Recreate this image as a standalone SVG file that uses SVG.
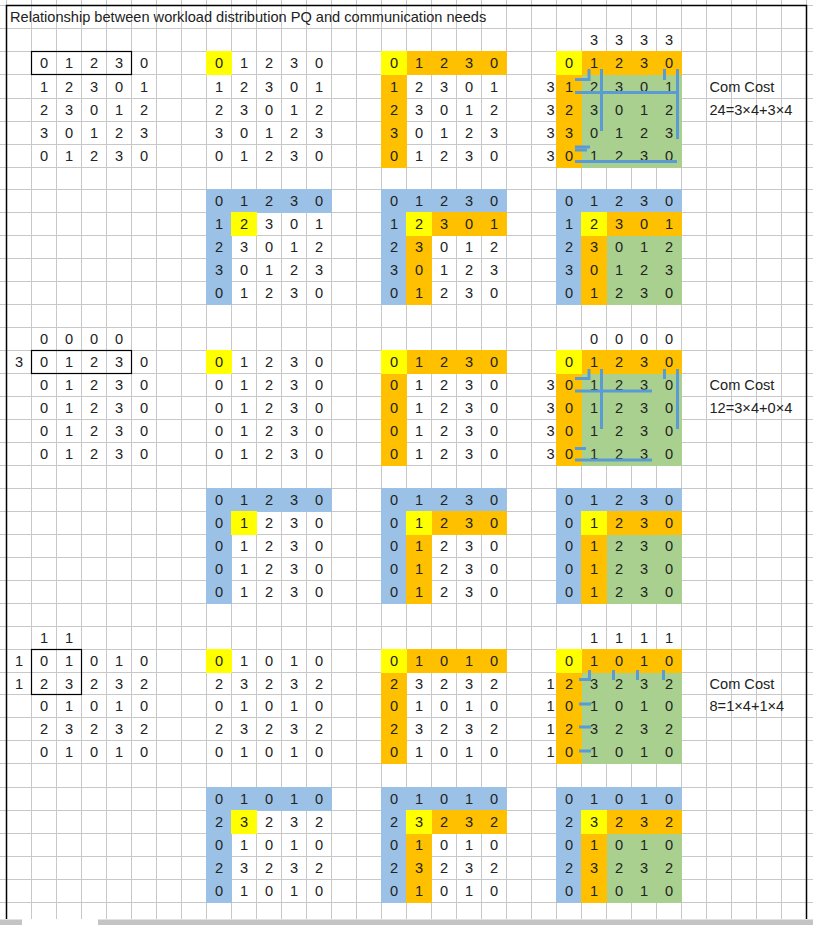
<svg xmlns="http://www.w3.org/2000/svg" width="813" height="925" viewBox="0 0 813 925">
<style>
.n{font-family:"Liberation Sans",Arial,sans-serif;font-size:14.6px;fill:#222;text-anchor:middle}
.l{font-family:"Liberation Sans",Arial,sans-serif;font-size:14.6px;fill:#222;text-anchor:start}
.r{font-family:"Liberation Sans",Arial,sans-serif;font-size:14.6px;fill:#222;text-anchor:end}
.y{fill:#FFFF00}.o{fill:#FFC000}.b{fill:#9BC2E6}.g{fill:#A9D08E}
.box{fill:none;stroke:#000;stroke-width:1.2}
.bl{fill:none;stroke:#5B9BD5;stroke-width:3}
.grid{fill:none;stroke:#c8c8c8;stroke-width:1}
</style>
<rect x="0" y="0" width="813" height="925" fill="#fff"/>
<g id="grid">
<path class="grid" d="M6.5 0V919M31.5 0V919M56.5 0V919M81.5 0V919M106.5 0V919M131.5 0V919M156.5 0V919M181.5 0V919M206.5 0V919M231.5 0V919M256.5 0V919M281.5 0V919M306.5 0V919M331.5 0V919M356.5 0V919M381.5 0V919M406.5 0V919M431.5 0V919M456.5 0V919M481.5 0V919M506.5 0V919M531.5 0V919M556.5 0V919M581.5 0V919M606.5 0V919M631.5 0V919M656.5 0V919M681.5 0V919M706.5 0V919M731.5 0V919M756.5 0V919M781.5 0V919M806.5 0V919"/>
<path class="grid" d="M0 5.5H813M0 28.5H813M0 51.5H813M0 74.5H813M0 98.5H813M0 121.5H813M0 144.5H813M0 167.5H813M0 189.5H813M0 212.5H813M0 235.5H813M0 258.5H813M0 281.5H813M0 304.5H813M0 327.5H813M0 350.5H813M0 373.5H813M0 396.5H813M0 419.5H813M0 442.5H813M0 465.5H813M0 488.5H813M0 511.5H813M0 534.5H813M0 557.5H813M0 580.5H813M0 603.5H813M0 626.5H813M0 649.5H813M0 672.5H813M0 694.5H813M0 717.5H813M0 740.5H813M0 763.5H813M0 787.5H813M0 810.5H813M0 833.5H813M0 856.5H813M0 879.5H813M0 902.5H813"/>
<path d="M6.5 919V5.5H806.5V919" fill="none" stroke="#000" stroke-width="1.5"/>
<rect x="0" y="919.5" width="22" height="5.5" fill="#c4c4c4"/>
<rect x="98" y="919.5" width="715" height="5.5" fill="#c4c4c4"/>
</g>
<g id="title"><text class="l" x="10" y="22.2">Relationship between workload distribution PQ and communication needs</text></g>

<!-- Section 1 -->
<g id="s1-A">
<text class="n" x="44 69 94 119 144" y="68.2">01230</text>
<text class="n" x="44 69 94 119 144" y="91.7">12301</text>
<text class="n" x="44 69 94 119 144" y="115.2">23012</text>
<text class="n" x="44 69 94 119 144" y="138.2">30123</text>
<text class="n" x="44 69 94 119 144" y="161.2">01230</text>
<rect class="box" x="31.5" y="51.5" width="100" height="23"/>
</g>
<g id="s1-B">
<rect class="y" x="206" y="51" width="26" height="24"/>
<text class="n" x="219 244 269 294 319" y="68.2">01230</text>
<text class="n" x="219 244 269 294 319" y="91.7">12301</text>
<text class="n" x="219 244 269 294 319" y="115.2">23012</text>
<text class="n" x="219 244 269 294 319" y="138.2">30123</text>
<text class="n" x="219 244 269 294 319" y="161.2">01230</text>
</g>
<g id="s1-C">
<rect class="o" x="406" y="51" width="101" height="24"/>
<rect class="o" x="381" y="74" width="26" height="94"/>
<rect class="y" x="381" y="51" width="26" height="24"/>
<text class="n" x="394 419 444 469 494" y="68.2">01230</text>
<text class="n" x="394 419 444 469 494" y="91.7">12301</text>
<text class="n" x="394 419 444 469 494" y="115.2">23012</text>
<text class="n" x="394 419 444 469 494" y="138.2">30123</text>
<text class="n" x="394 419 444 469 494" y="161.2">01230</text>
</g>
<g id="s1-D">
<rect class="o" x="581" y="51" width="101" height="24"/>
<rect class="o" x="556" y="74" width="26" height="94"/>
<rect class="g" x="582" y="75" width="100" height="93"/>
<rect class="y" x="556" y="51" width="26" height="24"/>
<text class="n" x="594 619 644 669" y="45.2">3333</text>
<text class="r" x="554.5" y="91.7">3</text>
<text class="r" x="554.5" y="115.2">3</text>
<text class="r" x="554.5" y="138.2">3</text>
<text class="r" x="554.5" y="161.2">3</text>
<text class="n" x="569 594 619 644 669" y="68.2">01230</text>
<text class="n" x="569 594 619 644 669" y="91.7">12301</text>
<text class="n" x="569 594 619 644 669" y="115.2">23012</text>
<text class="n" x="569 594 619 644 669" y="138.2">30123</text>
<text class="n" x="569 594 619 644 669" y="161.2">01230</text>
</g>
<g id="s1-cost">
<text class="l" x="709.5" y="91.7">Com Cost</text>
<text class="l" x="709.5" y="115.2">24=3×4+3×4</text>
</g>
<g id="s1-Bb">
<rect class="b" x="206" y="189" width="126" height="24"/>
<rect class="b" x="206" y="212" width="26" height="93"/>
<rect class="y" x="231" y="212" width="26" height="24"/>
<text class="n" x="219 244 269 294 319" y="206.2">01230</text>
<text class="n" x="219 244 269 294 319" y="229.2">12301</text>
<text class="n" x="219 244 269 294 319" y="252.2">23012</text>
<text class="n" x="219 244 269 294 319" y="275.2">30123</text>
<text class="n" x="219 244 269 294 319" y="298.2">01230</text>
</g>
<g id="s1-Cb">
<rect class="b" x="381" y="189" width="126" height="24"/>
<rect class="b" x="381" y="212" width="26" height="93"/>
<rect class="o" x="431" y="212" width="76" height="24"/>
<rect class="o" x="406" y="235" width="26" height="70"/>
<rect class="y" x="406" y="212" width="26" height="24"/>
<text class="n" x="394 419 444 469 494" y="206.2">01230</text>
<text class="n" x="394 419 444 469 494" y="229.2">12301</text>
<text class="n" x="394 419 444 469 494" y="252.2">23012</text>
<text class="n" x="394 419 444 469 494" y="275.2">30123</text>
<text class="n" x="394 419 444 469 494" y="298.2">01230</text>
</g>
<g id="s1-Db">
<rect class="b" x="556" y="189" width="126" height="24"/>
<rect class="b" x="556" y="212" width="26" height="93"/>
<rect class="o" x="606" y="212" width="76" height="24"/>
<rect class="o" x="581" y="235" width="26" height="70"/>
<rect class="g" x="607" y="236" width="75" height="69"/>
<rect class="y" x="581" y="212" width="26" height="24"/>
<text class="n" x="569 594 619 644 669" y="206.2">01230</text>
<text class="n" x="569 594 619 644 669" y="229.2">12301</text>
<text class="n" x="569 594 619 644 669" y="252.2">23012</text>
<text class="n" x="569 594 619 644 669" y="275.2">30123</text>
<text class="n" x="569 594 619 644 669" y="298.2">01230</text>
</g>

<!-- Section 2 -->
<g id="s2-A">
<text class="n" x="44 69 94 119" y="344.2">0000</text>
<text class="n" x="19" y="367.2">3</text>
<text class="n" x="44 69 94 119 144" y="367.2">01230</text>
<text class="n" x="44 69 94 119 144" y="390.2">01230</text>
<text class="n" x="44 69 94 119 144" y="413.2">01230</text>
<text class="n" x="44 69 94 119 144" y="436.2">01230</text>
<text class="n" x="44 69 94 119 144" y="459.2">01230</text>
<rect class="box" x="31.5" y="350.5" width="100" height="23"/>
</g>
<g id="s2-B">
<rect class="y" x="206" y="350" width="26" height="24"/>
<text class="n" x="219 244 269 294 319" y="367.2">01230</text>
<text class="n" x="219 244 269 294 319" y="390.2">01230</text>
<text class="n" x="219 244 269 294 319" y="413.2">01230</text>
<text class="n" x="219 244 269 294 319" y="436.2">01230</text>
<text class="n" x="219 244 269 294 319" y="459.2">01230</text>
</g>
<g id="s2-C">
<rect class="o" x="406" y="350" width="101" height="24"/>
<rect class="o" x="381" y="373" width="26" height="93"/>
<rect class="y" x="381" y="350" width="26" height="24"/>
<text class="n" x="394 419 444 469 494" y="367.2">01230</text>
<text class="n" x="394 419 444 469 494" y="390.2">01230</text>
<text class="n" x="394 419 444 469 494" y="413.2">01230</text>
<text class="n" x="394 419 444 469 494" y="436.2">01230</text>
<text class="n" x="394 419 444 469 494" y="459.2">01230</text>
</g>
<g id="s2-D">
<rect class="o" x="581" y="350" width="101" height="24"/>
<rect class="o" x="556" y="373" width="26" height="93"/>
<rect class="g" x="582" y="374" width="100" height="92"/>
<rect class="y" x="556" y="350" width="26" height="24"/>
<text class="n" x="594 619 644 669" y="344.2">0000</text>
<text class="r" x="554.5" y="390.2">3</text>
<text class="r" x="554.5" y="413.2">3</text>
<text class="r" x="554.5" y="436.2">3</text>
<text class="r" x="554.5" y="459.2">3</text>
<text class="n" x="569 594 619 644 669" y="367.2">01230</text>
<text class="n" x="569 594 619 644 669" y="390.2">01230</text>
<text class="n" x="569 594 619 644 669" y="413.2">01230</text>
<text class="n" x="569 594 619 644 669" y="436.2">01230</text>
<text class="n" x="569 594 619 644 669" y="459.2">01230</text>
</g>
<g id="s2-cost">
<text class="l" x="709.5" y="390.2">Com Cost</text>
<text class="l" x="709.5" y="413.2">12=3×4+0×4</text>
</g>
<g id="s2-Bb">
<rect class="b" x="206" y="488" width="126" height="24"/>
<rect class="b" x="206" y="511" width="26" height="93"/>
<rect class="y" x="231" y="511" width="26" height="24"/>
<text class="n" x="219 244 269 294 319" y="505.2">01230</text>
<text class="n" x="219 244 269 294 319" y="528.2">01230</text>
<text class="n" x="219 244 269 294 319" y="551.2">01230</text>
<text class="n" x="219 244 269 294 319" y="574.2">01230</text>
<text class="n" x="219 244 269 294 319" y="597.2">01230</text>
</g>
<g id="s2-Cb">
<rect class="b" x="381" y="488" width="126" height="24"/>
<rect class="b" x="381" y="511" width="26" height="93"/>
<rect class="o" x="431" y="511" width="76" height="24"/>
<rect class="o" x="406" y="534" width="26" height="70"/>
<rect class="y" x="406" y="511" width="26" height="24"/>
<text class="n" x="394 419 444 469 494" y="505.2">01230</text>
<text class="n" x="394 419 444 469 494" y="528.2">01230</text>
<text class="n" x="394 419 444 469 494" y="551.2">01230</text>
<text class="n" x="394 419 444 469 494" y="574.2">01230</text>
<text class="n" x="394 419 444 469 494" y="597.2">01230</text>
</g>
<g id="s2-Db">
<rect class="b" x="556" y="488" width="126" height="24"/>
<rect class="b" x="556" y="511" width="26" height="93"/>
<rect class="o" x="606" y="511" width="76" height="24"/>
<rect class="o" x="581" y="534" width="26" height="70"/>
<rect class="g" x="607" y="535" width="75" height="69"/>
<rect class="y" x="581" y="511" width="26" height="24"/>
<text class="n" x="569 594 619 644 669" y="505.2">01230</text>
<text class="n" x="569 594 619 644 669" y="528.2">01230</text>
<text class="n" x="569 594 619 644 669" y="551.2">01230</text>
<text class="n" x="569 594 619 644 669" y="574.2">01230</text>
<text class="n" x="569 594 619 644 669" y="597.2">01230</text>
</g>

<!-- Section 3 -->
<g id="s3-A">
<text class="n" x="44 69" y="643.2">11</text>
<text class="n" x="19" y="666.2">1</text>
<text class="n" x="19" y="688.7">1</text>
<text class="n" x="44 69 94 119 144" y="666.2">01010</text>
<text class="n" x="44 69 94 119 144" y="688.7">23232</text>
<text class="n" x="44 69 94 119 144" y="711.2">01010</text>
<text class="n" x="44 69 94 119 144" y="734.2">23232</text>
<text class="n" x="44 69 94 119 144" y="757.2">01010</text>
<rect class="box" x="31.5" y="649.5" width="50" height="45"/>
</g>
<g id="s3-B">
<rect class="y" x="206" y="649" width="26" height="24"/>
<text class="n" x="219 244 269 294 319" y="666.2">01010</text>
<text class="n" x="219 244 269 294 319" y="688.7">23232</text>
<text class="n" x="219 244 269 294 319" y="711.2">01010</text>
<text class="n" x="219 244 269 294 319" y="734.2">23232</text>
<text class="n" x="219 244 269 294 319" y="757.2">01010</text>
</g>
<g id="s3-C">
<rect class="o" x="406" y="649" width="101" height="24"/>
<rect class="o" x="381" y="672" width="26" height="92"/>
<rect class="y" x="381" y="649" width="26" height="24"/>
<text class="n" x="394 419 444 469 494" y="666.2">01010</text>
<text class="n" x="394 419 444 469 494" y="688.7">23232</text>
<text class="n" x="394 419 444 469 494" y="711.2">01010</text>
<text class="n" x="394 419 444 469 494" y="734.2">23232</text>
<text class="n" x="394 419 444 469 494" y="757.2">01010</text>
</g>
<g id="s3-D">
<rect class="o" x="581" y="649" width="101" height="24"/>
<rect class="o" x="556" y="672" width="26" height="92"/>
<rect class="g" x="582" y="673" width="100" height="91"/>
<rect class="y" x="556" y="649" width="26" height="24"/>
<text class="n" x="594 619 644 669" y="643.2">1111</text>
<text class="r" x="554.5" y="688.7">1</text>
<text class="r" x="554.5" y="711.2">1</text>
<text class="r" x="554.5" y="734.2">1</text>
<text class="r" x="554.5" y="757.2">1</text>
<text class="n" x="569 594 619 644 669" y="666.2">01010</text>
<text class="n" x="569 594 619 644 669" y="688.7">23232</text>
<text class="n" x="569 594 619 644 669" y="711.2">01010</text>
<text class="n" x="569 594 619 644 669" y="734.2">23232</text>
<text class="n" x="569 594 619 644 669" y="757.2">01010</text>
</g>
<g id="s3-cost">
<text class="l" x="709.5" y="688.7">Com Cost</text>
<text class="l" x="709.5" y="711.2">8=1×4+1×4</text>
</g>
<g id="s3-Bb">
<rect class="b" x="206" y="787" width="126" height="24"/>
<rect class="b" x="206" y="810" width="26" height="93"/>
<rect class="y" x="231" y="810" width="26" height="24"/>
<text class="n" x="219 244 269 294 319" y="804.2">01010</text>
<text class="n" x="219 244 269 294 319" y="827.2">23232</text>
<text class="n" x="219 244 269 294 319" y="850.2">01010</text>
<text class="n" x="219 244 269 294 319" y="873.2">23232</text>
<text class="n" x="219 244 269 294 319" y="896.2">01010</text>
</g>
<g id="s3-Cb">
<rect class="b" x="381" y="787" width="126" height="24"/>
<rect class="b" x="381" y="810" width="26" height="93"/>
<rect class="o" x="431" y="810" width="76" height="24"/>
<rect class="o" x="406" y="833" width="26" height="70"/>
<rect class="y" x="406" y="810" width="26" height="24"/>
<text class="n" x="394 419 444 469 494" y="804.2">01010</text>
<text class="n" x="394 419 444 469 494" y="827.2">23232</text>
<text class="n" x="394 419 444 469 494" y="850.2">01010</text>
<text class="n" x="394 419 444 469 494" y="873.2">23232</text>
<text class="n" x="394 419 444 469 494" y="896.2">01010</text>
</g>
<g id="s3-Db">
<rect class="b" x="556" y="787" width="126" height="24"/>
<rect class="b" x="556" y="810" width="26" height="93"/>
<rect class="o" x="606" y="810" width="76" height="24"/>
<rect class="o" x="581" y="833" width="26" height="70"/>
<rect class="g" x="607" y="834" width="75" height="69"/>
<rect class="y" x="581" y="810" width="26" height="24"/>
<text class="n" x="569 594 619 644 669" y="804.2">01010</text>
<text class="n" x="569 594 619 644 669" y="827.2">23232</text>
<text class="n" x="569 594 619 644 669" y="850.2">01010</text>
<text class="n" x="569 594 619 644 669" y="873.2">23232</text>
<text class="n" x="569 594 619 644 669" y="896.2">01010</text>
</g>

<g id="connectors" class="bl">
<path d="M575 79.5H589V69"/>
<path d="M664.5 69V80"/>
<path d="M601.5 69V131"/>
<path d="M677.5 69V139"/>
<path d="M575 92.5H677"/>
<path d="M575 147H590"/>
<path d="M575 150H587"/>
<path d="M575 161.5H677"/>
<path d="M575 378.5H589V369"/>
<path d="M664.5 369V379"/>
<path d="M601.5 369V429"/>
<path d="M677.5 369V429"/>
<path d="M575 391H652"/>
<path d="M575 448.5H586"/>
<path d="M575 460H652"/>
<path d="M579 679.5H589.5V670"/>
<path d="M613.5 670V680"/>
<path d="M637.5 670V680"/>
<path d="M663.5 670V680"/>
<path d="M579 704H591"/>
<path d="M579 727H591"/>
<path d="M579 751H591"/>
</g>
</svg>
